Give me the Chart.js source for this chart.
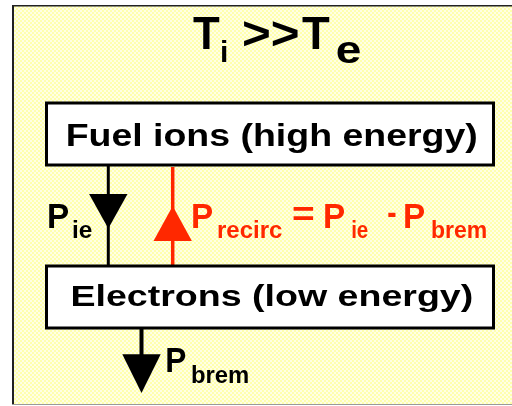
<!DOCTYPE html>
<html>
<head>
<meta charset="utf-8">
<script src="https://cdn.jsdelivr.net/npm/chart.js@4"></script>
<style>
  html, body { margin: 0; padding: 0; background: #fff; }
  #wrap { width: 512px; height: 406px; }
</style>
</head>
<body>
<div id="wrap"><canvas id="myChart"></canvas></div>
<script>
// textos do diagrama
const titleText = ['T', 'i', '>>', 'T', 'e'];
const boxLabels = ['Fuel ions (high energy)', 'Electrons (low energy)'];
const ieLabel = ['P', 'ie'];
const recircLabel = ['P', 'recirc', '=', 'P', 'ie', '-', 'P', 'brem'];
const bremLabel = ['P', 'brem'];

const FONT = '"Liberation Sans", Arial, Helvetica, sans-serif';
const RED = '#ff2800';

// escreve um texto com a tinta entre x0 e x1 (se x1 for dado)
function texto(ctx, sx, sy, str, x0, x1, base, size, color) {
  ctx.save();
  ctx.font = 'bold ' + size + 'px ' + FONT;
  ctx.fillStyle = color;
  ctx.textBaseline = 'alphabetic';
  const m = ctx.measureText(str);
  const ink = m.actualBoundingBoxLeft + m.actualBoundingBoxRight;
  const px0 = sx.getPixelForValue(x0);
  const py = sy.getPixelForValue(base);
  let k = 1;
  if (x1 != null) k = (sx.getPixelForValue(x1) - px0) / ink;
  ctx.translate(px0, py);
  ctx.scale(k, 1);
  ctx.fillText(str, m.actualBoundingBoxLeft, 0);
  ctx.restore();
}

function caixa(ctx, sx, sy, x0, y0, x1, y1) {
  const a = sx.getPixelForValue(x0), b = sy.getPixelForValue(y0);
  const c = sx.getPixelForValue(x1), d = sy.getPixelForValue(y1);
  ctx.fillStyle = '#ffffff';
  ctx.fillRect(a, b, c - a, d - b);
  ctx.strokeStyle = '#000000';
  ctx.lineWidth = 3;
  ctx.strokeRect(a, b, c - a, d - b);
}

// seta: linha de y0 a y1 e triangulo (base em yb, ponta em yt)
function seta(ctx, sx, sy, x, y0, y1, yb, yt, half, lw, color) {
  const px = sx.getPixelForValue(x);
  ctx.strokeStyle = color;
  ctx.fillStyle = color;
  ctx.lineWidth = lw;
  ctx.beginPath();
  ctx.moveTo(px, sy.getPixelForValue(y0));
  ctx.lineTo(px, sy.getPixelForValue(y1));
  ctx.stroke();
  ctx.beginPath();
  ctx.moveTo(sx.getPixelForValue(x - half), sy.getPixelForValue(yb));
  ctx.lineTo(sx.getPixelForValue(x + half), sy.getPixelForValue(yb));
  ctx.lineTo(px, sy.getPixelForValue(yt));
  ctx.closePath();
  ctx.fill();
}

const fundo = {
  id: 'fundo',
  beforeDraw(chart) {
    const ctx = chart.ctx;
    const sx = chart.scales.x, sy = chart.scales.y;
    // padrao xadrez amarelo
    const tile = document.createElement('canvas');
    tile.width = 4; tile.height = 4;
    const t = tile.getContext('2d');
    t.fillStyle = '#ffffe4'; t.fillRect(0, 0, 4, 4);
    t.fillStyle = '#ffffae'; t.fillRect(0, 0, 2, 2); t.fillRect(2, 2, 2, 2);
    ctx.save();
    ctx.fillStyle = '#ffffff';
    ctx.fillRect(0, 0, chart.width, chart.height);
    const x0 = sx.getPixelForValue(13), y0 = sy.getPixelForValue(6);
    ctx.fillStyle = ctx.createPattern(tile, 'repeat');
    ctx.fillRect(x0, y0, sx.getPixelForValue(512) - x0, sy.getPixelForValue(404) - y0);
    ctx.fillStyle = '#222222';
    ctx.fillRect(sx.getPixelForValue(12), sy.getPixelForValue(5), 2, sy.getPixelForValue(405) - sy.getPixelForValue(5));
    ctx.fillRect(sx.getPixelForValue(12), sy.getPixelForValue(5), sx.getPixelForValue(512) - sx.getPixelForValue(12), 1.5);
    ctx.fillStyle = '#9a9a9a';
    ctx.fillRect(sx.getPixelForValue(12), sy.getPixelForValue(404), sx.getPixelForValue(512) - sx.getPixelForValue(12), 1);
    ctx.restore();
  }
};

const diagrama = {
  id: 'diagrama',
  afterDraw(chart) {
    const ctx = chart.ctx;
    const sx = chart.scales.x, sy = chart.scales.y;
    ctx.save();

    // titulo
    texto(ctx, sx, sy, titleText[0], 193, 220, 49, 47, '#000');
    texto(ctx, sx, sy, titleText[1], 222, null, 62, 30, '#000');
    texto(ctx, sx, sy, titleText[2], 243, 298, 49, 47, '#000');
    texto(ctx, sx, sy, titleText[3], 302, 330, 49, 47, '#000');
    texto(ctx, sx, sy, titleText[4], 337, 360, 63, 38, '#000');

    // setas entre as caixas
    seta(ctx, sx, sy, 108.3, 165, 266, 194, 228.5, 19.2, 3, '#000');
    seta(ctx, sx, sy, 172.7, 167, 266, 241, 206, 19.2, 3.5, RED);
    seta(ctx, sx, sy, 141.5, 328, 356, 354.3, 393, 19.2, 4, '#000');

    // caixas
    caixa(ctx, sx, sy, 46.5, 103, 493.5, 165);
    caixa(ctx, sx, sy, 46.5, 266, 493.5, 328);
    texto(ctx, sx, sy, boxLabels[0], 68, 477, 146, 32, '#000');
    texto(ctx, sx, sy, boxLabels[1], 73, 472, 306, 30, '#000');

    // P_ie
    texto(ctx, sx, sy, ieLabel[0], 49, 69, 228, 35, '#000');
    texto(ctx, sx, sy, ieLabel[1], 73, 92, 238, 24, '#000');

    // P_recirc = P_ie - P_brem
    texto(ctx, sx, sy, recircLabel[0], 193, 213, 228, 35, RED);
    texto(ctx, sx, sy, recircLabel[1], 218, 282, 238, 24, RED);
    texto(ctx, sx, sy, recircLabel[2], 293, 313, 226, 35, RED);
    texto(ctx, sx, sy, recircLabel[3], 325, 345, 228, 35, RED);
    texto(ctx, sx, sy, recircLabel[4], 352, 368, 238, 24, RED);
    texto(ctx, sx, sy, recircLabel[5], 388, 396, 224, 35, RED);
    texto(ctx, sx, sy, recircLabel[6], 405, 425, 228, 35, RED);
    texto(ctx, sx, sy, recircLabel[7], 432, 486, 238, 24, RED);

    // P_brem
    texto(ctx, sx, sy, bremLabel[0], 167, 186, 372, 35, '#000');
    texto(ctx, sx, sy, bremLabel[1], 192, 248, 383, 24, '#000');

    ctx.restore();
  }
};

const ctx1 = document.getElementById('myChart').getContext('2d');
const chart1 = new Chart(ctx1, {
  type: 'scatter',
  data: { datasets: [] },
  options: {
    responsive: true,
    maintainAspectRatio: false,
    animation: false,
    layout: { padding: 0 },
    plugins: { legend: { display: false }, tooltip: { enabled: false } },
    scales: {
      x: { type: 'linear', min: 0, max: 512, display: false },
      y: { type: 'linear', min: 0, max: 406, reverse: true, display: false }
    }
  },
  plugins: [fundo, diagrama]
});
</script>
</body>
</html>
